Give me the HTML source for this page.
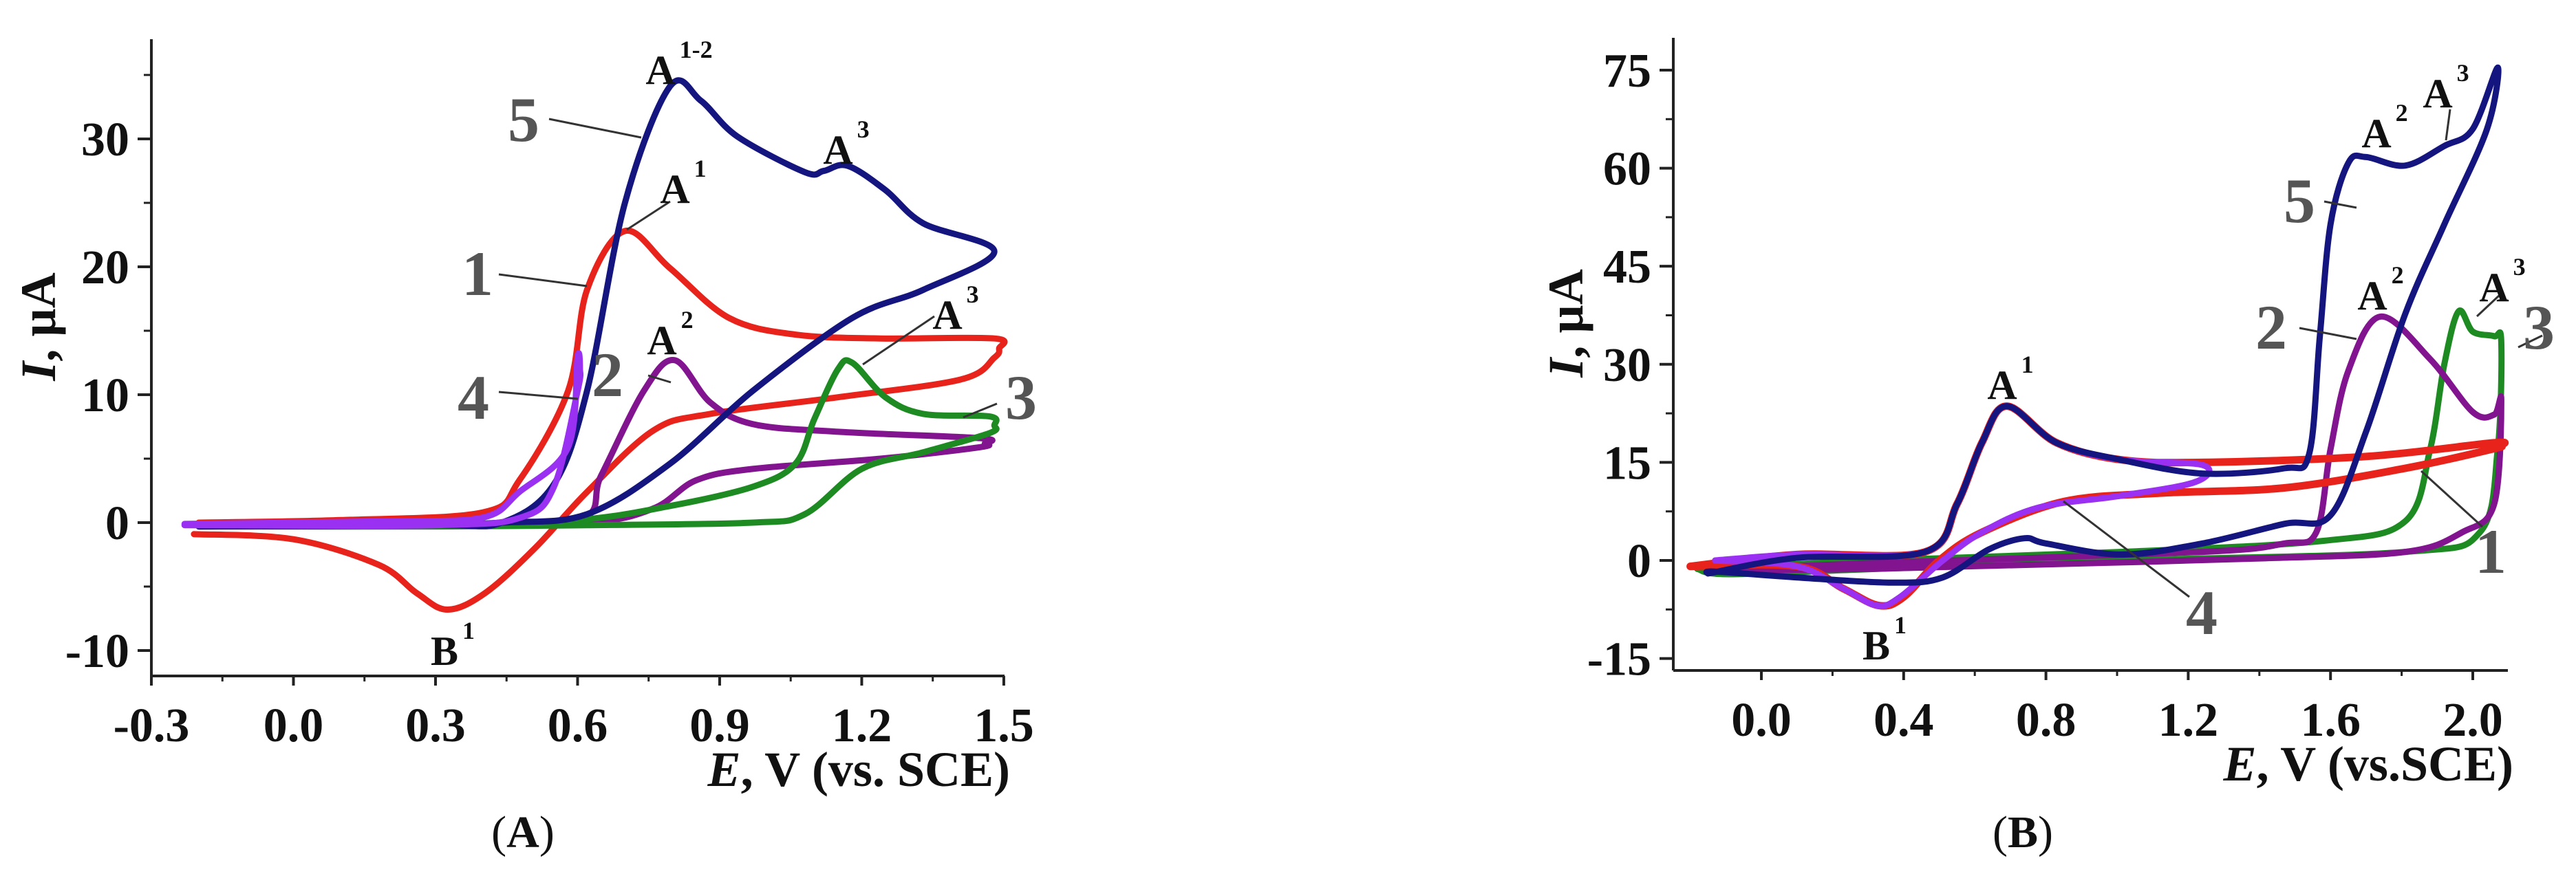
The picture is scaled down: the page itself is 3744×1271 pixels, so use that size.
<!DOCTYPE html>
<html><head><meta charset="utf-8"><style>
html,body{margin:0;padding:0;background:#fff;}
svg{display:block;font-family:"Liberation Serif",serif;}
</style></head><body>
<svg id="fig" width="3744" height="1271" viewBox="0 0 3744 1271" xmlns="http://www.w3.org/2000/svg">
<g id="pA"></g>
<g id="pB"></g>
</svg>
<script>
// ---------- Panel A data ----------
const aXTicks = [-0.3, 0.0, 0.3, 0.6, 0.9, 1.2, 1.5];
const aXTickLabels = ["-0.3","0.0","0.3","0.6","0.9","1.2","1.5"];
const aYTicks = [-10, 0, 10, 20, 30];
const aYTickLabels = ["-10","0","10","20","30"];
const aCurve1E = [-0.2,0.1,0.4,0.477,0.58,0.62,0.7,0.795,0.92,1.06,1.24,1.48,1.49,1.48,1.41,1.15,0.88,0.76,0.62,0.51,0.405,0.325,0.26,0.18,0.0,-0.21];
const aCurve1I = [0.0,0.2,0.8,3.3,10.3,18.2,22.8,19.9,16.0,14.7,14.4,14.4,13.6,12.9,11.2,9.8,8.5,7.2,2.4,-2.0,-5.5,-6.8,-5.5,-3.3,-1.3,-0.9];
const aCurve2E = [-0.2,0.3,0.6,0.65,0.74,0.805,0.88,0.97,1.15,1.45,1.46,1.45,1.24,0.97,0.85,0.76,0.62,0.3,-0.2];
const aCurve2I = [-0.2,-0.1,0.2,3.7,10.3,12.7,9.4,7.7,7.1,6.6,6.2,5.9,5.0,4.2,3.3,1.1,0.0,-0.2,-0.3];
const aCurve3E = [-0.2,0.3,0.6,0.795,0.97,1.06,1.1,1.15,1.18,1.25,1.33,1.47,1.48,1.47,1.33,1.2,1.08,0.97,0.62,0.3,-0.2];
const aCurve3I = [-0.3,-0.2,0.2,1.3,2.8,4.6,8.1,12.0,12.5,9.8,8.5,8.3,7.6,7.0,5.5,4.2,0.66,0.0,-0.2,-0.3,-0.3];
const aCurve4E = [-0.23,0.2,0.4,0.477,0.58,0.6,0.605,0.6,0.55,0.48,0.3,-0.23];
const aCurve4I = [-0.1,0.1,0.4,2.4,5.9,12.9,12.0,10.3,2.8,0.4,-0.2,-0.2];
const aCurve5E = [-0.2,0.3,0.44,0.55,0.62,0.7,0.795,0.86,0.937,1.08,1.12,1.17,1.25,1.33,1.48,1.33,1.18,0.97,0.795,0.62,0.44,0.2,-0.2];
const aCurve5I = [-0.3,-0.2,0.0,3.0,10.3,25.0,34.1,33.0,30.2,27.4,27.5,27.9,26.0,23.4,21.2,18.2,16.0,10.3,4.6,0.66,0.0,-0.2,-0.3];

// ---------- Panel B data ----------
const bXTicks = [0.0, 0.4, 0.8, 1.2, 1.6, 2.0];
const bXTickLabels = ["0.0","0.4","0.8","1.2","1.6","2.0"];
const bYTicks = [-15, 0, 15, 30, 45, 60, 75];
const bYTickLabels = ["-15","0","15","30","45","60","75"];
const bCurve1E = [-0.2,0.1,0.46,0.55,0.62,0.69,0.83,1.01,1.24,1.7,2.06,2.07,2.06,1.81,1.47,1.12,0.85,0.62,0.5,0.4,0.33,0.23,0.1,-0.2];
const bCurve1I = [-0.9,0.9,1.3,8.6,18.0,23.6,18.0,15.4,15.0,15.9,18.0,17.5,17.1,14.1,11.1,10.3,9.0,4.3,0.0,-5.6,-6.9,-4.3,-0.9,-0.9];
const bCurve2E = [-0.15,0.32,1.24,1.47,1.56,1.6,1.65,1.74,1.88,2.0,2.06,2.08,2.06,1.97,1.81,1.4,0.8,0.3,-0.15];
const bCurve2I = [-1.5,-0.4,1.3,2.6,4.3,17.0,29.0,37.3,30.8,22.7,22.3,24.4,8.6,4.3,1.3,0.3,-0.6,-1.3,-1.5];
const bCurve3E = [-0.18,0.32,1.01,1.58,1.81,1.88,1.92,1.96,2.0,2.06,2.08,2.07,2.02,1.81,1.01,0.32,-0.09,-0.18];
const bCurve3I = [-1.3,0.0,1.3,3.0,6.0,17.0,30.0,38.1,35.0,34.3,33.4,17.0,4.3,1.3,0.0,-1.3,-2.1,-1.3];
const bCurve4E = [-0.13,0.1,0.46,0.55,0.62,0.69,0.83,1.01,1.24,1.22,1.01,0.78,0.62,0.51,0.39,0.325,0.23,0.1,-0.13];
const bCurve4I = [0.0,0.9,1.3,8.6,18.0,23.6,18.0,15.4,14.6,12.0,9.9,8.1,4.3,0.0,-5.6,-6.9,-4.3,-0.9,0.0];
const bCurve5E = [-0.15,0.1,0.46,0.55,0.62,0.69,0.83,1.01,1.24,1.47,1.54,1.57,1.6,1.65,1.7,1.81,1.92,2.0,2.07,2.04,1.92,1.81,1.7,1.6,1.47,1.24,1.01,0.8,0.74,0.64,0.51,0.37,0.1,-0.13,-0.15];
const bCurve5I = [-2.0,0.4,1.3,8.6,18.0,23.6,18.0,15.4,13.3,14.1,16.3,34.3,51.4,60.8,61.7,60.4,63.4,66.0,75.4,66.0,51.4,37.7,19.7,6.9,5.6,2.6,0.9,2.6,3.4,1.7,-2.6,-3.4,-2.6,-1.7,-2.0];

const NS = "http://www.w3.org/2000/svg";
function mk(parent, tag, attrs, text){
  const el = document.createElementNS(NS, tag);
  for (const k in attrs) el.setAttribute(k, attrs[k]);
  if (text !== undefined) el.textContent = text;
  parent.appendChild(el);
  return el;
}
function smoothPath(pts){
  let d = "M" + pts[0][0].toFixed(1) + "," + pts[0][1].toFixed(1);
  for (let i = 0; i < pts.length - 1; i++){
    const p0 = pts[Math.max(0,i-1)], p1 = pts[i], p2 = pts[i+1], p3 = pts[Math.min(pts.length-1,i+2)];
    const c1x = p1[0] + (p2[0]-p0[0])/6, c1y = p1[1] + (p2[1]-p0[1])/6;
    const c2x = p2[0] - (p3[0]-p1[0])/6, c2y = p2[1] - (p3[1]-p1[1])/6;
    d += " C" + c1x.toFixed(1)+","+c1y.toFixed(1)+" "+c2x.toFixed(1)+","+c2y.toFixed(1)+" "+p2[0].toFixed(1)+","+p2[1].toFixed(1);
  }
  return d;
}

function panel(g, cfg){
  const sx = v => cfg.x0 + (v - cfg.xmin) * cfg.xs;
  const sy = v => cfg.y0 - v * cfg.ys;
  // axes
  let el = mk(g, "line", {x1:cfg.axL, y1:cfg.axTop, x2:cfg.axL, y2:cfg.axBot, stroke:"#222", "stroke-width":4});
  
  
  el = mk(g, "line", {x1:cfg.axL, y1:cfg.axBot, x2:cfg.axR, y2:cfg.axBot, stroke:"#222", "stroke-width":4});
  
  
  // x ticks
  cfg.xt.forEach((v,i) => {
    const x = sx(v);
    let t = mk(g, "line", {x1:x, y1:cfg.axBot, x2:x, y2:cfg.axBot+14, stroke:"#222", "stroke-width":4});
    
    
    if (i < cfg.xt.length-1){
      const xm = sx(v + cfg.xstep/2);
      let m = mk(g, "line", {x1:xm, y1:cfg.axBot, x2:xm, y2:cfg.axBot+8, stroke:"#222", "stroke-width":3});
      
      
    }
    let l = mk(g, "text", {x:x, y:cfg.axBot+95, "text-anchor":"middle", "font-size":70, "font-weight":"bold", fill:"#111"}, cfg.xl[i]);
    
    
  });
  // y ticks
  cfg.yt.forEach((v,i) => {
    const y = sy(v);
    let t = mk(g, "line", {x1:cfg.axL-20, y1:y, x2:cfg.axL, y2:y, stroke:"#222", "stroke-width":4});
    
    
    const ym = sy(v + cfg.ystep/2);
    if (ym > cfg.axTop){
      let m = mk(g, "line", {x1:cfg.axL-11, y1:ym, x2:cfg.axL, y2:ym, stroke:"#222", "stroke-width":3});
      
      
    }
    let l = mk(g, "text", {x:cfg.axL-32, y:y+24, "text-anchor":"end", "font-size":70, "font-weight":"bold", fill:"#111"}, cfg.yl[i]);
    
    
  });
  // axis titles
  let xt = mk(g, "text", {x:cfg.axR+8, y:cfg.axBot+160, "text-anchor":"end", "font-size":72, "font-weight":"bold", fill:"#111"});
  
  
  mk(xt, "tspan", {"font-style":"italic"}, "E");
  mk(xt, "tspan", {}, cfg.xtitle);
  let yt = mk(g, "text", {x:0, y:0, "text-anchor":"middle", "font-size":72, "font-weight":"bold", fill:"#111", transform:"translate("+cfg.ytx+","+cfg.yty+") rotate(-90)"});
  
  
  mk(yt, "tspan", {"font-style":"italic"}, "I");
  mk(yt, "tspan", {}, ", \u00B5A");
  // curves
  cfg.curves.forEach(c => {
    const pts = c.e.map((v,i) => [sx(v), sy(c.i[i])]);
    let p = mk(g, "path", {d:smoothPath(pts), fill:"none", stroke:c.color, "stroke-width":c.w||9, "stroke-linejoin":"round", "stroke-linecap":"round"});
    
    
  });
  // leaders
  cfg.leaders.forEach(L => {
    let l = mk(g, "line", {x1:L[0], y1:L[1], x2:L[2], y2:L[3], stroke:"#333", "stroke-width":3});
    
    
  });
  // peak labels
  cfg.peaks.forEach(P => {
    let t = mk(g, "text", {x:P[0], y:P[1], "text-anchor":"middle", "font-size":60, "font-weight":"bold", fill:"#111"});
    
    
    mk(t, "tspan", {}, P[2]);
    mk(t, "tspan", {dx:6, dy:-38, "font-size":36}, P[3]);
  });
  cfg.nums.forEach(N => {
    let t = mk(g, "text", {x:N[0], y:N[1], "text-anchor":"middle", "font-size":92, "font-weight":"bold", fill:"#555"}, N[2]);
    
    
  });
  let cap = mk(g, "text", {x:cfg.capx, y:1232, "text-anchor":"middle", "font-size":66, fill:"#111"});
  
  
  mk(cap, "tspan", {}, "(");
  mk(cap, "tspan", {"font-weight":"bold"}, cfg.cap);
  mk(cap, "tspan", {}, ")");
}

const RED="#e8231c", BLUE="#15157f", PURPLE="#82148f", VIOLET="#9a30f2", GREEN="#1d8a22";

panel(document.getElementById("pA"), {
  x0:220, xmin:-0.3, xs:688.3, y0:760, ys:18.6,
  axL:220, axR:1460, axTop:57, axBot:983, xstep:0.3, ystep:10,
  xt:aXTicks, xl:aXTickLabels, yt:aYTicks, yl:aYTickLabels,
  xtitle:", V (vs. SCE)", ytx:80, yty:475,
  curves:[
    {name:"curve-1-red", e:aCurve1E, i:aCurve1I, color:RED},
    {name:"curve-2-purple", e:aCurve2E, i:aCurve2I, color:PURPLE},
    {name:"curve-3-green", e:aCurve3E, i:aCurve3I, color:GREEN},
    {name:"curve-5-blue", e:aCurve5E, i:aCurve5I, color:BLUE},
    {name:"curve-4-violet", e:aCurve4E, i:aCurve4I, color:VIOLET}
  ],
  leaders:[[798,173,932,200],[974,293,911,334],[725,399,853,416],[725,570,840,580],[942,546,975,556],[1358,460,1254,530],[1449,587,1400,607]],
  peaks:[[987,122,"A","1-2"],[1230,238,"A","3"],[993,295,"A","1"],[974,515,"A","2"],[1389,478,"A","3"],[658,967,"B","1"]],
  nums:[[761,205,"5"],[694,429,"1"],[688,609,"4"],[883,576,"2"],[1484,609,"3"]],
  capx:760, cap:"A"
});

panel(document.getElementById("pB"), {
  x0:2560, xmin:0, xs:517, y0:815, ys:9.507,
  axL:2432, axR:3645, axTop:55, axBot:975, xstep:0.4, ystep:15,
  xt:bXTicks, xl:bXTickLabels, yt:bYTicks, yl:bYTickLabels,
  xtitle:", V (vs.SCE)", ytx:2300, yty:470,
  curves:[
    {name:"curve-3-green", e:bCurve3E, i:bCurve3I, color:GREEN},
    {name:"curve-2-purple", e:bCurve2E, i:bCurve2I, color:PURPLE},
    {name:"curve-1-red", e:bCurve1E, i:bCurve1I, color:RED, w:11},
    {name:"curve-4-violet", e:bCurve4E, i:bCurve4I, color:VIOLET},
    {name:"curve-5-blue", e:bCurve5E, i:bCurve5I, color:BLUE}
  ],
  leaders:[[3561,159,3555,204],[3378,293,3425,302],[3342,477,3425,493],[3632,430,3600,460],[3695,488,3660,505],[3608,766,3519,685],[3182,868,2999,729]],
  peaks:[[2922,580,"A","1"],[3466,214,"A","2"],[3555,156,"A","3"],[3460,450,"A","2"],[3637,438,"A","3"],[2739,959,"B","1"]],
  nums:[[3342,323,"5"],[3301,507,"2"],[3690,507,"3"],[3620,833,"1"],[3200,922,"4"]],
  capx:2940, cap:"B"
});
</script>
</body></html>
